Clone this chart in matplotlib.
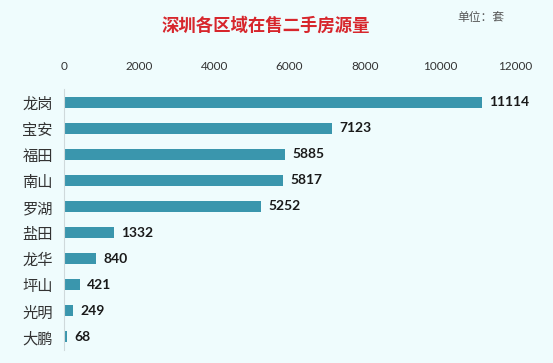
import matplotlib
matplotlib.use("Agg")
import matplotlib.pyplot as plt

plt.rcParams['font.family'] = ['Noto Sans CJK SC', 'DejaVu Sans']

categories = ["龙岗", "宝安", "福田", "南山", "罗湖", "盐田", "龙华", "坪山", "光明", "大鹏"]
values = [11114, 7123, 5885, 5817, 5252, 1332, 840, 421, 249, 68]
xticks = [0, 2000, 4000, 6000, 8000, 10000, 12000]

bg = "#effcfd"
bar_color = "#3a96ad"

fig = plt.figure(figsize=(5.53, 3.63), dpi=100, facecolor=bg)
ax = fig.add_axes([64/553, 1-350/363, (515-64)/553, (350-89)/363], facecolor=bg)

pos = list(range(len(categories)))
ax.barh(pos, values, height=0.42, color=bar_color)
ax.set_ylim(len(categories)-0.5, -0.5)
ax.set_xlim(0, 12000)
ax.set_yticks(pos)
ax.set_yticklabels(categories, fontsize=11, color="#333333")
ax.set_xticks(xticks)
ax.set_xticklabels([str(t) for t in xticks], fontsize=8.5, color="#333333", family=['Lato', 'DejaVu Sans'])
ax.xaxis.tick_top()
ax.tick_params(axis='x', length=0, pad=12)
ax.tick_params(axis='y', length=0, pad=8)
for s in ['top', 'right', 'bottom']:
    ax.spines[s].set_visible(False)
ax.spines['left'].set_color("#cfd9db")
ax.spines['left'].set_linewidth(0.8)

for p, v in zip(pos, values):
    ax.text(v + 200, p, str(v), va='center', ha='left', fontsize=10, fontweight='bold',
            color="#1a1a1a", family=['Lato', 'DejaVu Sans'])

fig.text(266/553, 1-26/363, "深圳各区域在售二手房源量", ha='center', va='center',
         fontsize=12.5, fontweight='bold', color="#d7262c")
fig.text(481/553, 1-17/363, "单位：套", ha='center', va='center', fontsize=8.5, color="#555555")

fig.savefig("out.png", dpi=100, facecolor=bg)
